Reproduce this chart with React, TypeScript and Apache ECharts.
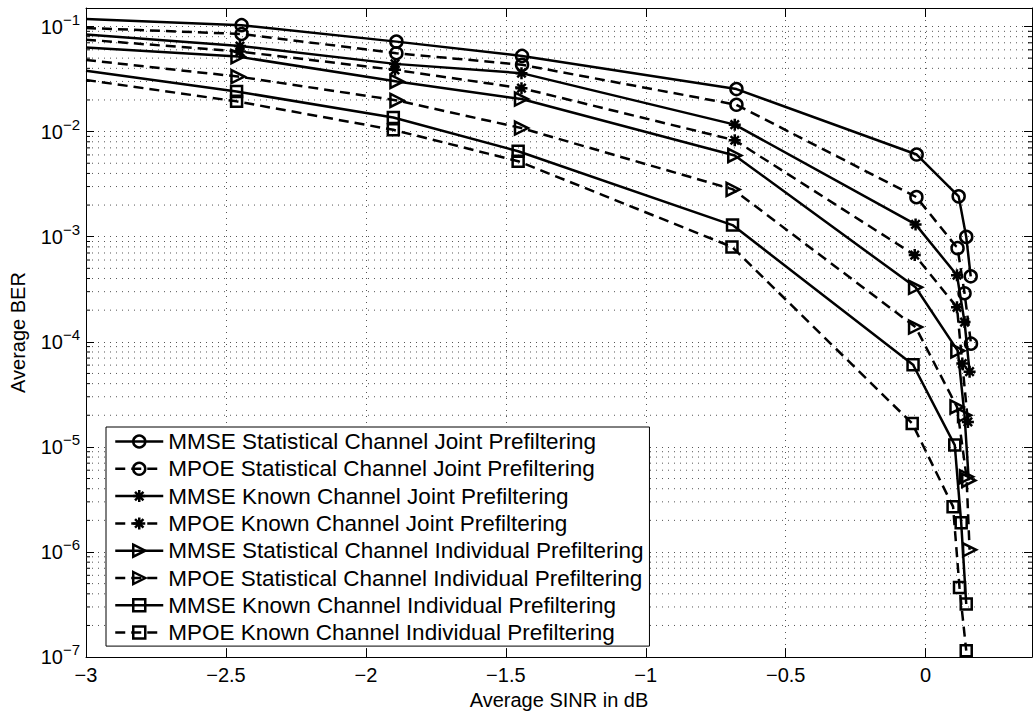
import React, { useEffect, useRef } from "react";
import * as echarts from "echarts";

// Axis ranges and tick settings
const X_MIN = -3;
const X_MAX = 0.38;
const X_TICK_STEP = 0.5;
const Y_MIN = 1e-7;
const Y_MAX = 0.15;
const MINOR_MULTIPLIERS = [2, 3, 4, 5, 6, 7, 8, 9];
const MINOR_DECADES = [-7, -6, -5, -4, -3, -2];

// Series names
const seriesNames = [
  "MMSE Statistical Channel Joint Prefiltering",
  "MPOE Statistical Channel Joint Prefiltering",
  "MMSE Known Channel Joint Prefiltering",
  "MPOE Known Channel Joint Prefiltering",
  "MMSE Statistical Channel Individual Prefiltering",
  "MPOE Statistical Channel Individual Prefiltering",
  "MMSE Known Channel Individual Prefiltering",
  "MPOE Known Channel Individual Prefiltering",
];

// Data (Average SINR in dB, Average BER); the first point sits on the left edge (no marker)
const mmseStatJointX = [-3, -2.444, -1.891, -1.442, -0.676, -0.032, 0.118, 0.145, 0.161];
const mmseStatJointY = [0.118, 0.103, 0.0718, 0.0525, 0.0254, 0.00605, 0.00242, 0.000996, 0.00042];

const mpoeStatJointX = [-3, -2.444, -1.891, -1.442, -0.676, -0.033, 0.114, 0.139, 0.162];
const mpoeStatJointY = [0.0968, 0.0849, 0.0557, 0.0432, 0.018, 0.00238, 0.000778, 0.00029, 0.000096];

const mmseKnownJointX = [-3, -2.45, -1.896, -1.444, -0.682, -0.036, 0.112, 0.139, 0.157];
const mmseKnownJointY = [0.084, 0.0653, 0.0441, 0.036, 0.01165, 0.00131, 0.00043, 0.000154, 0.000052];

const mpoeKnownJointX = [-3, -2.45, -1.896, -1.444, -0.682, -0.039, 0.112, 0.131, 0.151];
const mpoeKnownJointY = [0.075, 0.0577, 0.0387, 0.0259, 0.00828, 0.000668, 0.000213, 0.000062, 0.0000173];

const mmseStatIndivX = [-3, -2.457, -1.889, -1.444, -0.682, -0.036, 0.115, 0.139, 0.154];
const mmseStatIndivY = [0.063, 0.0517, 0.03, 0.0204, 0.00593, 0.00033, 0.000082, 0.00002, 0.0000048];

const mpoeStatIndivX = [-3, -2.457, -1.889, -1.444, -0.688, -0.036, 0.112, 0.146, 0.157];
const mpoeStatIndivY = [0.048, 0.0334, 0.0198, 0.0108, 0.00282, 0.000138, 0.000024, 0.0000052, 0.00000105];

const mmseKnownIndivX = [-3, -2.462, -1.902, -1.456, -0.69, -0.045, 0.104, 0.127, 0.145];
const mmseKnownIndivY = [0.038, 0.0241, 0.0136, 0.0065, 0.00129, 0.0000605, 0.0000104, 0.0000019, 0.00000032];

const mpoeKnownIndivX = [-3, -2.462, -1.902, -1.456, -0.692, -0.048, 0.098, 0.121, 0.145];
const mpoeKnownIndivY = [0.031, 0.0194, 0.0104, 0.00523, 0.0008, 0.0000167, 0.0000027, 0.00000046, 0.000000115];

const FONT = "'Liberation Sans', Arial, Helvetica, sans-serif";

const SYM_CIRCLE = "circle";
const SYM_STAR =
  "path://M5,0 L5,10 M0,5 L10,5 M1.5,1.5 L8.5,8.5 M1.5,8.5 L8.5,1.5";
const SYM_TRI = "path://M0,0 L10,5 L0,10 Z";
const SYM_RECT = "rect";

export default function App() {
  const ref = useRef<HTMLDivElement>(null);

  useEffect(() => {
    if (!ref.current) return;
    const chart = echarts.init(ref.current, undefined, { renderer: "svg" });

    const xs = [
      mmseStatJointX, mpoeStatJointX, mmseKnownJointX, mpoeKnownJointX,
      mmseStatIndivX, mpoeStatIndivX, mmseKnownIndivX, mpoeKnownIndivX,
    ];
    const ys = [
      mmseStatJointY, mpoeStatJointY, mmseKnownJointY, mpoeKnownJointY,
      mmseStatIndivY, mpoeStatIndivY, mmseKnownIndivY, mpoeKnownIndivY,
    ];
    const symbols = [SYM_CIRCLE, SYM_CIRCLE, SYM_STAR, SYM_STAR, SYM_TRI, SYM_TRI, SYM_RECT, SYM_RECT];
    const sizes = [12, 12, 12, 12, 13, 13, 11, 11];
    const DASH = [10, 6];
    const LW = 2.5;

    const markerStyle = { color: "rgba(0,0,0,0)", borderColor: "#000", borderWidth: LW };

    const lineSeries = seriesNames.map((name, i) => {
      const dashed = i % 2 === 1;
      return {
        name,
        type: "line",
        data: xs[i].map((x, j) =>
          j === 0 ? { value: [x, ys[i][j]], symbol: "none" } : [x, ys[i][j]]
        ),
        symbol: symbols[i],
        symbolSize: sizes[i],
        showAllSymbol: true,
        clip: true,
        z: 3,
        lineStyle: { color: "#000", width: LW, type: dashed ? DASH : "solid" },
        itemStyle: markerStyle,
        emphasis: { disabled: true },
      };
    });

    const minorY: number[] = [];
    MINOR_DECADES.forEach((d) =>
      MINOR_MULTIPLIERS.forEach((m) => {
        const v = m * Math.pow(10, d);
        if (v <= Y_MAX) minorY.push(v);
      })
    );

    const minorSeries = {
      type: "custom",
      silent: true,
      z: 1,
      clip: true,
      data: minorY.map((v) => [X_MIN, v]),
      encode: { x: 0, y: 1 },
      renderItem: (params: any, api: any) => {
        const v = api.value(1);
        const p0 = api.coord([X_MIN, v]);
        const p1 = api.coord([X_MAX, v]);
        return {
          type: "group",
          children: [
            {
              type: "line",
              shape: { x1: p0[0], y1: p0[1], x2: p1[0], y2: p1[1] },
              style: { stroke: "#555", lineWidth: 1, lineDash: [1, 5] },
            },
            {
              type: "line",
              shape: { x1: p0[0], y1: p0[1], x2: p0[0] + 4, y2: p0[1] },
              style: { stroke: "#000", lineWidth: 1 },
            },
            {
              type: "line",
              shape: { x1: p1[0] - 4, y1: p1[1], x2: p1[0], y2: p1[1] },
              style: { stroke: "#000", lineWidth: 1 },
            },
          ],
        };
      },
    };

    const xLabel = (v: number) => {
      const k = v / X_TICK_STEP;
      if (Math.abs(k - Math.round(k)) > 1e-6) return "";
      const r = Math.round(v * 10) / 10;
      if (r === 0) return "0";
      return (r < 0 ? "\u2212" : "") + String(Math.abs(r));
    };
    const yLabel = (v: number) => {
      const l = Math.log10(v);
      const e = Math.round(l);
      if (Math.abs(l - e) > 1e-6) return "";
      return `{b|10}{s|${e < 0 ? "\u2212" : ""}${Math.abs(e)}}`;
    };

    const axisLineStyle = { color: "#000", width: 1 };
    const gridLine = { show: true, lineStyle: { color: "#555", width: 1, type: [1, 5] } };

    chart.setOption({
      animation: false,
      backgroundColor: "#fff",
      textStyle: { fontFamily: FONT },
      grid: { left: 86, top: 8, right: 2.6, bottom: 55.5, containLabel: false },
      xAxis: [
        {
          type: "value",
          min: X_MIN,
          max: X_MAX,
          interval: X_TICK_STEP,
          position: "bottom",
          name: "Average SINR in dB",
          nameLocation: "middle",
          nameGap: 31,
          nameTextStyle: { fontSize: 20, color: "#000", fontFamily: FONT },
          axisLine: { show: true, onZero: false, lineStyle: axisLineStyle },
          axisTick: { show: true, inside: true, length: 9, lineStyle: axisLineStyle },
          axisLabel: { formatter: xLabel, fontSize: 20, color: "#000", margin: 8, fontFamily: FONT },
          splitLine: gridLine,
        },
        {
          type: "value",
          min: X_MIN,
          max: X_MAX,
          interval: X_TICK_STEP,
          position: "top",
          axisLine: { show: true, onZero: false, lineStyle: axisLineStyle },
          axisTick: { show: true, inside: true, length: 9, lineStyle: axisLineStyle },
          axisLabel: { show: false },
          splitLine: { show: false },
        },
      ],
      yAxis: [
        {
          type: "log",
          logBase: 10,
          min: Y_MIN,
          max: Y_MAX,
          position: "left",
          name: "Average BER",
          nameLocation: "middle",
          nameGap: 58,
          nameRotate: 90,
          nameTextStyle: { fontSize: 20, color: "#000", fontFamily: FONT },
          axisLine: { show: true, onZero: false, lineStyle: axisLineStyle },
          axisTick: { show: true, inside: true, length: 8, lineStyle: axisLineStyle },
          axisLabel: {
            formatter: yLabel,
            margin: 6,
            color: "#000",
            rich: {
              b: { fontSize: 20, fontFamily: FONT, color: "#000" },
              s: { fontSize: 15, fontFamily: FONT, color: "#000", padding: [0, 0, 15, 0] },
            },
          },
          splitLine: gridLine,
        },
        {
          type: "log",
          logBase: 10,
          min: Y_MIN,
          max: Y_MAX,
          position: "right",
          axisLine: { show: true, onZero: false, lineStyle: axisLineStyle },
          axisTick: { show: true, inside: true, length: 8, lineStyle: axisLineStyle },
          axisLabel: { show: false },
          splitLine: { show: false },
        },
      ],
      legend: {
        orient: "vertical",
        left: 106,
        top: 427,
        padding: [3, 6, 2, 8],
        itemGap: 4.3,
        itemWidth: 48,
        itemHeight: 15,
        backgroundColor: "#fff",
        borderColor: "#000",
        borderWidth: 1,
        borderRadius: 0,
        selectedMode: false,
        textStyle: { fontFamily: FONT, fontSize: 22.5, color: "#000", lineHeight: 22 },
        data: seriesNames.map((n, i) => ({
          name: n,
          itemStyle: markerStyle,
          lineStyle: { color: "#000", width: LW, type: i % 2 === 1 ? DASH : "solid" },
        })),
      },
      series: [minorSeries, ...lineSeries],
    });

    return () => chart.dispose();
  }, []);

  return (
    <div
      ref={ref}
      style={{ position: "absolute", left: 0, top: 0, width: 1035, height: 715, background: "#fff" }}
    />
  );
}
